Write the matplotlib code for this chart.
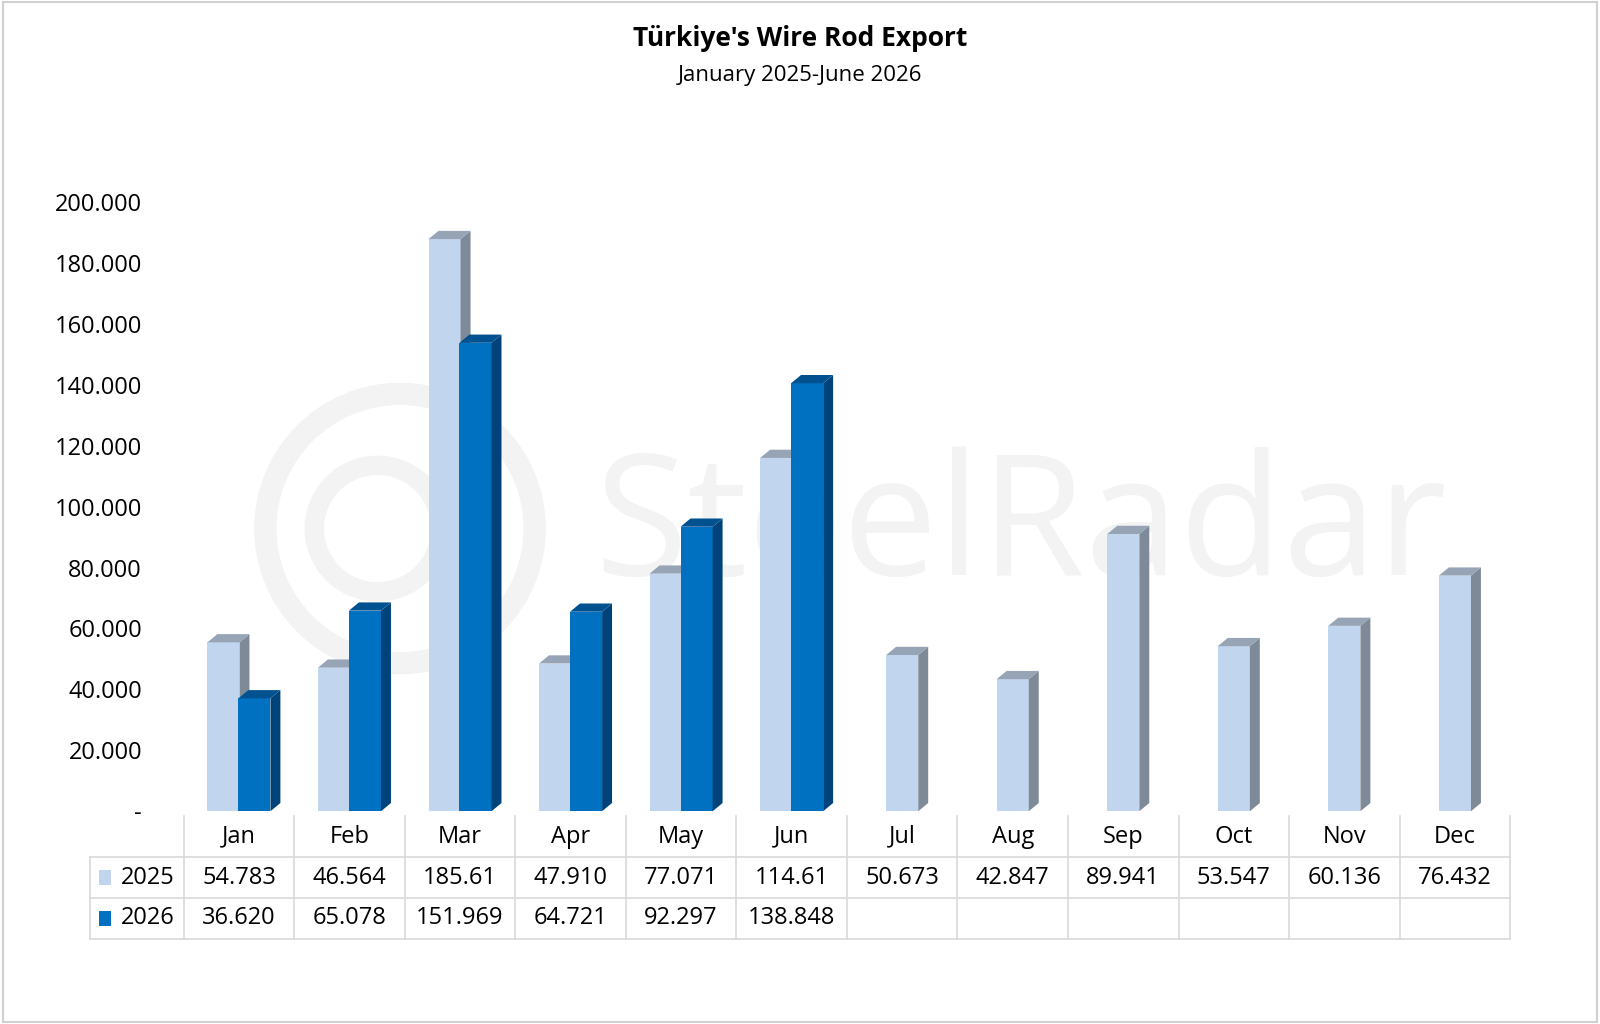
import matplotlib.pyplot as plt
from matplotlib.patches import Polygon, Rectangle, Ellipse
from matplotlib.lines import Line2D

plt.rcParams['font.family'] = ['Open Sans', 'DejaVu Sans']

months = ['Jan', 'Feb', 'Mar', 'Apr', 'May', 'Jun', 'Jul', 'Aug', 'Sep', 'Oct', 'Nov', 'Dec']
v2025 = [54783, 46564, 185610, 47910, 77071, 114610, 50673, 42847, 89941, 53547, 60136, 76432]
v2026 = [36620, 65078, 151969, 64721, 92297, 138848]
lab2025 = ['54.783', '46.564', '185.61', '47.910', '77.071', '114.61', '50.673', '42.847', '89.941', '53.547', '60.136', '76.432']
lab2026 = ['36.620', '65.078', '151.969', '64.721', '92.297', '138.848']
yticks = [0, 20000, 40000, 60000, 80000, 100000, 120000, 140000, 160000, 180000, 200000]

W, H = 1600, 1024
S = 1600 / 1568  # reference pixel scale


def fx(px):
    return px * S / W


def fy(py):
    return 1 - py * S / H


fig = plt.figure(figsize=(16, 10.24), dpi=100)
fig.add_artist(Rectangle((0.002, 0.002), 0.996, 0.996, transform=fig.transFigure,
                         fill=False, ec='#d0d0d0', lw=1.5))

# watermark
wm = '#f3f3f3'
for cx, r, lw in [(392, 132, 16), (370, 62, 14)]:
    fig.add_artist(Ellipse((fx(cx), fy(518)), fx(2 * r), fx(2 * r) * W / H,
                           transform=fig.transFigure, fill=False, ec=wm, lw=lw, zorder=0))
fig.text(fx(1000), fy(520), 'SteelRadar', fontsize=122, color=wm, ha='center', va='center', zorder=0)

ax = fig.add_axes([fx(180), fy(795), fx(1480) - fx(180), fy(198) - fy(795)])
ax.set_zorder(2)
ax.patch.set_visible(False)
ax.set_xlim(-0.5, 11.5)
ax.set_ylim(0, 200000)
for s in ax.spines.values():
    s.set_visible(False)
ax.set_xticks([])
ax.set_yticks(yticks)
ax.set_yticklabels(['-' if t == 0 else f'{t // 1000}.000' for t in yticks], fontsize=17)
ax.tick_params(axis='y', length=0, pad=30)

bw = 0.29
dx, dy = 0.09, 2700


def bar3d(x, h, front, side, top):
    ax.add_patch(Polygon([(x, 0), (x + bw, 0), (x + bw, h), (x, h)], closed=True, fc=front, ec='none', zorder=3))
    ax.add_patch(Polygon([(x + bw, 0), (x + bw + dx, dy), (x + bw + dx, h + dy), (x + bw, h)],
                         closed=True, fc=side, ec='none', zorder=3))
    ax.add_patch(Polygon([(x, h), (x + dx, h + dy), (x + bw + dx, h + dy), (x + bw, h)],
                         closed=True, fc=top, ec='none', zorder=3))


for i, v in enumerate(v2025):
    bar3d(i - 0.14 - bw / 2 + (0.0 if i < len(v2026) else 0.14), v * 1.012, '#c2d5ee', '#7f8a98', '#96a4b6')
for i, v in enumerate(v2026):
    bar3d(i + 0.14 - bw / 2, v * 1.012, '#0070c0', '#00427a', '#005190')

# data table
x0 = fx(180)
cw = (fx(1480) - fx(180)) / 12
left = fx(88)
rows = [fy(800), fy(840), fy(880), fy(920)]
lc = '#d9d9d9'
for k in range(13):
    xx = x0 + k * cw
    fig.add_artist(Line2D([xx, xx], [rows[0], rows[3]], color=lc, lw=1.2))
fig.add_artist(Line2D([left, left], [rows[1], rows[3]], color=lc, lw=1.2))
for r in rows[1:]:
    fig.add_artist(Line2D([left, x0 + 12 * cw], [r, r], color=lc, lw=1.2))
for i, m in enumerate(months):
    xc = x0 + (i + 0.5) * cw
    fig.text(xc, (rows[0] + rows[1]) / 2, m, ha='center', va='center', fontsize=17)
    fig.text(xc, (rows[1] + rows[2]) / 2, lab2025[i], ha='center', va='center', fontsize=17)
    if i < len(lab2026):
        fig.text(xc, (rows[2] + rows[3]) / 2, lab2026[i], ha='center', va='center', fontsize=17)
for r0, r1, c, name in [(rows[1], rows[2], '#c2d5ee', '2025'), (rows[2], rows[3], '#0070c0', '2026')]:
    yc = (r0 + r1) / 2
    fig.add_artist(Rectangle((fx(97), yc - 0.007), fx(12), 0.014, transform=fig.transFigure, fc=c, ec='none'))
    fig.text(fx(118), yc, name, ha='left', va='center', fontsize=17)

fig.text(0.5, fy(38), "Türkiye's Wire Rod Export", ha='center', va='center', fontsize=19, fontweight='bold')
fig.text(0.5, fy(74), 'January 2025-June 2026', ha='center', va='center', fontsize=16)

fig.savefig('out.png', dpi=100)
